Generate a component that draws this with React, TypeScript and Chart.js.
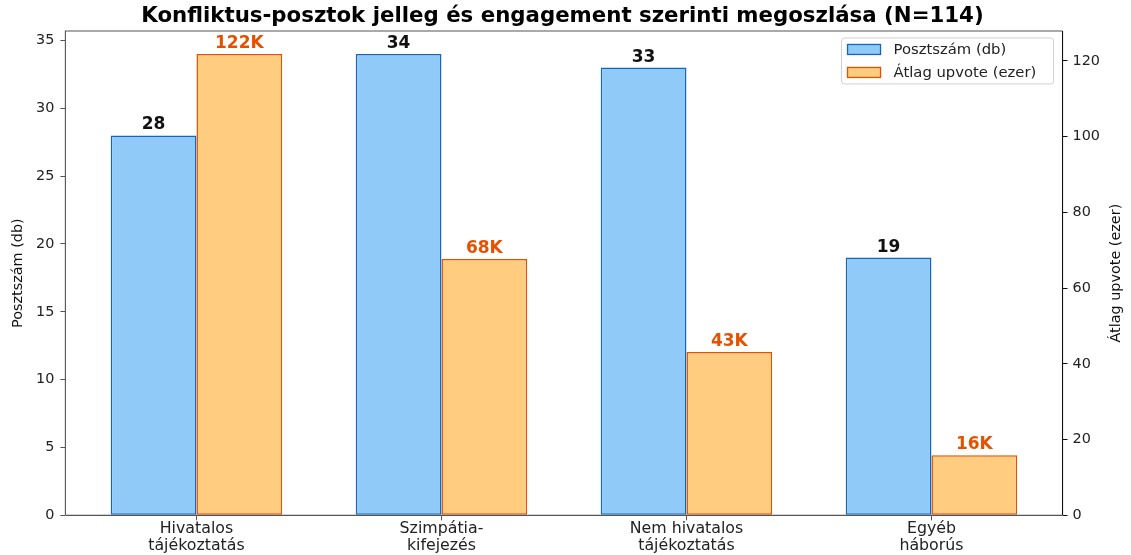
import { useEffect, useRef } from "react";
import { Chart, registerables } from "chart.js";

Chart.register(...registerables);

const chartTitle = "Konfliktus-posztok jelleg és engagement szerinti megoszlása (N=114)";
const categories: string[][] = [
  ["Hivatalos", "tájékoztatás"],
  ["Szimpátia-", "kifejezés"],
  ["Nem hivatalos", "tájékoztatás"],
  ["Egyéb", "háborús"],
];
const categoryPositions = [0, 1, 2, 3];
const postCounts = [28, 34, 33, 19];
const avgUpvotesK = [121.8, 67.7, 43.1, 15.9];
const leftTicks = [0, 5, 10, 15, 20, 25, 30, 35];
const rightTicks = [0, 20, 40, 60, 80, 100, 120];
const seriesLabels = ["Posztszám (db)", "Átlag upvote (ezer)"];
const leftAxisTitle = "Posztszám (db)";
const rightAxisTitle = "Átlag upvote (ezer)";

const FONT = "'DejaVu Sans', sans-serif";
const BLUE_FILL = "#90CAF9";
const BLUE_EDGE = "#1565C0";
const ORANGE_FILL = "#FFCC80";
const ORANGE_EDGE = "#E65100";

const overlayPlugin = {
  id: "overlay",
  afterDatasetsDraw(chart: any) {
    const ctx = chart.ctx as CanvasRenderingContext2D;
    const { left, right, top, bottom } = chart.chartArea;
    ctx.save();
    // value labels
    ctx.font = `bold 17px ${FONT}`;
    ctx.textAlign = "center";
    ctx.textBaseline = "alphabetic";
    chart.data.datasets.forEach((_ds: any, di: number) => {
      const meta = chart.getDatasetMeta(di);
      meta.data.forEach((bar: any, i: number) => {
        const text = di === 0 ? String(postCounts[i]) : `${Math.round(avgUpvotesK[i])}K`;
        ctx.fillStyle = di === 0 ? "#111" : ORANGE_EDGE;
        ctx.fillText(text, bar.x, bar.y - 6);
      });
    });
    // frame
    ctx.lineWidth = 1.1;
    ctx.strokeStyle = "#555";
    ctx.beginPath();
    ctx.moveTo(left, bottom);
    ctx.lineTo(left, top);
    ctx.lineTo(right, top);
    ctx.moveTo(left, bottom);
    ctx.lineTo(right, bottom);
    ctx.stroke();
    ctx.strokeStyle = "#111";
    ctx.beginPath();
    ctx.moveTo(right, top);
    ctx.lineTo(right, bottom);
    ctx.stroke();
    // right axis title (reads bottom to top)
    ctx.save();
    ctx.translate(1116, (top + bottom) / 2);
    ctx.rotate(-Math.PI / 2);
    ctx.font = `14.4px ${FONT}`;
    ctx.fillStyle = "#111";
    ctx.textAlign = "center";
    ctx.textBaseline = "middle";
    ctx.fillText(rightAxisTitle, 0, 0);
    ctx.restore();
    // legend
    const bx = right - 221;
    const by = top + 7;
    const bw = 212;
    const bh = 46;
    ctx.fillStyle = "rgba(255,255,255,0.85)";
    ctx.strokeStyle = "#d0d0d0";
    ctx.lineWidth = 1;
    ctx.beginPath();
    (ctx as any).roundRect(bx, by, bw, bh, 3);
    ctx.fill();
    ctx.stroke();
    const fills = [BLUE_FILL, ORANGE_FILL];
    const edges = [BLUE_EDGE, ORANGE_EDGE];
    seriesLabels.forEach((lab, i) => {
      const cy = by + 11.5 + i * 23;
      ctx.fillStyle = fills[i];
      ctx.fillRect(bx + 6, cy - 5, 33, 10);
      ctx.strokeStyle = edges[i];
      ctx.lineWidth = 1.3;
      ctx.strokeRect(bx + 6, cy - 5, 33, 10);
      ctx.fillStyle = "#222";
      ctx.font = `14.8px ${FONT}`;
      ctx.textAlign = "left";
      ctx.textBaseline = "middle";
      ctx.fillText(lab, bx + 52, cy + 1);
    });
    ctx.restore();
  },
};

export default function App() {
  const canvasRef = useRef<HTMLCanvasElement | null>(null);

  useEffect(() => {
    document.body.style.margin = "0";
    const canvas = canvasRef.current;
    if (!canvas) return;
    const chart = new Chart(canvas, {
      type: "bar",
      data: {
        datasets: [
          {
            label: seriesLabels[0],
            data: postCounts.map((v, i) => ({ x: categoryPositions[i], y: v })),
            backgroundColor: BLUE_FILL,
            borderColor: BLUE_EDGE,
            borderWidth: 1.5,
            borderSkipped: false,
            yAxisID: "y",
          },
          {
            label: seriesLabels[1],
            data: avgUpvotesK.map((v, i) => ({ x: categoryPositions[i], y: v })),
            backgroundColor: ORANGE_FILL,
            borderColor: ORANGE_EDGE,
            borderWidth: 1.5,
            borderSkipped: false,
            yAxisID: "y1",
          },
        ],
      },
      options: {
        responsive: false,
        animation: false,
        layout: { padding: { left: 0, right: 6, top: 0, bottom: 0.5 } },
        datasets: { bar: { categoryPercentage: 0.7, barPercentage: 1.0 } },
        plugins: {
          legend: { display: false },
          tooltip: { enabled: false },
          title: {
            display: true,
            text: chartTitle,
            color: "#000",
            font: { family: FONT, size: 21.3, weight: "bold", lineHeight: 1.2 },
            padding: { top: 4, bottom: 1.4 },
          },
        },
        scales: {
          x: {
            type: "linear",
            min: -0.535,
            max: 3.535,
            offset: false,
            grid: {
              display: true,
              offset: false,
              drawOnChartArea: false,
              drawTicks: true,
              tickLength: 5,
              tickColor: "#555",
            },
            border: { display: false },
            afterBuildTicks: (scale: any) => {
              scale.ticks = categoryPositions.map((v) => ({ value: v }));
            },
            ticks: {
              autoSkip: false,
              maxRotation: 0,
              padding: 0,
              color: "#222",
              font: { family: FONT, size: 15.8, lineHeight: 1.08 },
              callback: (value: any) => categories[Math.round(Number(value))] ?? "",
            },
          },
          y: {
            type: "linear",
            position: "left",
            min: 0,
            max: Math.max(...postCounts) * 1.05,
            grid: {
              display: true,
              drawOnChartArea: false,
              drawTicks: true,
              tickLength: 5,
              tickColor: "#555",
            },
            border: { display: false },
            afterBuildTicks: (scale: any) => {
              scale.ticks = leftTicks.map((v) => ({ value: v }));
            },
            ticks: {
              padding: 6,
              color: "#222",
              font: { family: FONT, size: 14.4 },
            },
            title: {
              display: true,
              text: leftAxisTitle,
              color: "#111",
              font: { family: FONT, size: 14.4, lineHeight: 1.2 },
              padding: { top: 9.5, bottom: 3.3 },
            },
          },
          y1: {
            type: "linear",
            position: "right",
            min: 0,
            max: Math.max(...avgUpvotesK) * 1.05,
            grid: {
              display: true,
              drawOnChartArea: false,
              drawTicks: true,
              tickLength: 5,
              tickColor: "#111",
            },
            border: { display: false },
            afterBuildTicks: (scale: any) => {
              scale.ticks = rightTicks.map((v) => ({ value: v }));
            },
            afterFit: (scale: any) => {
              scale.width += 20;
            },
            ticks: {
              padding: 5,
              color: "#222",
              font: { family: FONT, size: 14.4 },
            },
          },
        },
      },
      plugins: [overlayPlugin],
    } as any);
    return () => chart.destroy();
  }, []);

  return (
    <div style={{ width: 1131, height: 555 }}>
      <canvas ref={canvasRef} width={1131} height={555} />
    </div>
  );
}
